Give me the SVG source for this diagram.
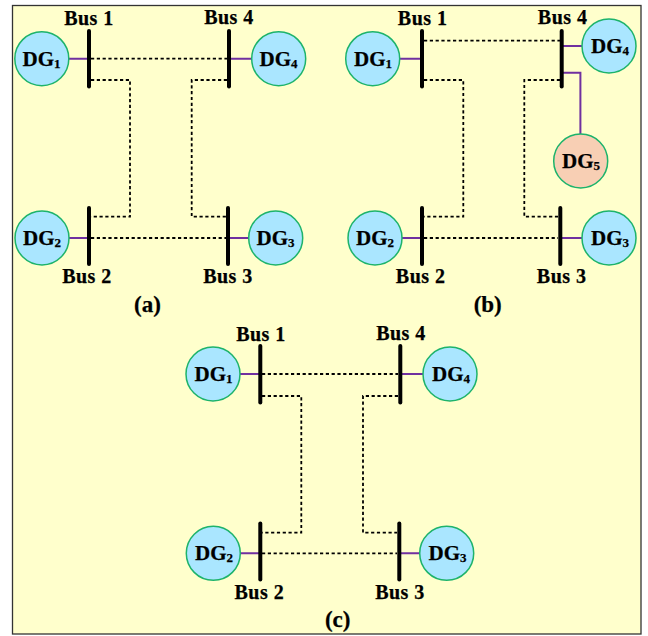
<svg xmlns="http://www.w3.org/2000/svg" width="648" height="636" viewBox="0 0 648 636">
<style>
text{font-family:"Liberation Serif","Times New Roman",serif;font-weight:bold;fill:#000;text-anchor:middle;stroke:#000;stroke-width:.25px}
.l{font-size:20px;letter-spacing:.5px}
.d{font-size:21px}
.s{font-size:13px}
.c{font-size:23px}
circle{stroke:#1db36b;stroke-width:1.5}
.dg{fill:#aae6ff}
.dg5{fill:#f8cfb4}
.bus{stroke:#000;stroke-width:4;stroke-linecap:round;fill:none}
.p{stroke:#7030a0;stroke-width:2;fill:none}
.da{stroke:#000;stroke-width:1.8;stroke-dasharray:3.2 2.6;fill:none}
</style>
<rect x="12.5" y="5.5" width="628.5" height="628.5" fill="#ffffcc" stroke="#333" stroke-width="1.3"/>
<g id="connectors">
<path class="p" d="M69 58.7H89M229 58.7H252M69 238H89M228 238H249"/>
<path class="da" d="M91 58.7H227M91 238H226M91 80H130V216.7H91M227 80H191.7V216.7H226"/>
<path class="p" d="M399 58.7H422M561.7 46H582M397 238H422M560.3 238H582M561.7 72.7H580.4V134"/>
<path class="da" d="M424 40.7H560M424 238H558M424 80H463.3V216.7H424M560 80H524.3V216.7H558"/>
<path class="p" d="M240 374H260.3M400.3 374H423M240 553.3H260.3M399.3 553.3H420"/>
<path class="da" d="M262 374H398M262 553.3H397M262 396H301.3V532.7H262M398 396H363V532.7H397"/>
</g>
<g id="bus1a"><path class="bus" d="M89 31V86.5"/><text class="l" x="89" y="24.7">Bus 1</text></g>
<g id="bus4a"><path class="bus" d="M229 31V86.5"/><text class="l" x="229" y="23.7">Bus 4</text></g>
<g id="bus2a"><path class="bus" d="M89 208V264"/><text class="l" x="87" y="282.7">Bus 2</text></g>
<g id="bus3a"><path class="bus" d="M228 208V264"/><text class="l" x="228" y="282.7">Bus 3</text></g>
<g id="dg1a"><circle class="dg" cx="41.8" cy="58.7" r="27"/><text class="d" x="41.5" y="65.5">DG<tspan class="s" dy="2">1</tspan></text></g>
<g id="dg4a"><circle class="dg" cx="278.7" cy="58.7" r="27"/><text class="d" x="278.5" y="65.5">DG<tspan class="s" dy="2">4</tspan></text></g>
<g id="dg2a"><circle class="dg" cx="42" cy="238" r="27"/><text class="d" x="42" y="245">DG<tspan class="s" dy="2">2</tspan></text></g>
<g id="dg3a"><circle class="dg" cx="275.7" cy="238" r="27"/><text class="d" x="275.5" y="245">DG<tspan class="s" dy="2">3</tspan></text></g>
<text id="cap-a" class="c" x="147.5" y="312">(a)</text>
<g id="bus1b"><path class="bus" d="M422 31V86.5"/><text class="l" x="422.7" y="24.7">Bus 1</text></g>
<g id="bus4b"><path class="bus" d="M561.7 31V86.5"/><text class="l" x="562.7" y="23.7">Bus 4</text></g>
<g id="bus2b"><path class="bus" d="M422 208V264"/><text class="l" x="420.7" y="282.7">Bus 2</text></g>
<g id="bus3b"><path class="bus" d="M560.3 208V264"/><text class="l" x="561.7" y="282.7">Bus 3</text></g>
<g id="dg1b"><circle class="dg" cx="372.7" cy="58.7" r="27"/><text class="d" x="373" y="65.5">DG<tspan class="s" dy="2">1</tspan></text></g>
<g id="dg4b"><circle class="dg" cx="609" cy="46" r="27"/><text class="d" x="610" y="53">DG<tspan class="s" dy="2">4</tspan></text></g>
<g id="dg5b"><circle class="dg5" cx="580.7" cy="161" r="27"/><text class="d" x="581" y="168">DG<tspan class="s" dy="2">5</tspan></text></g>
<g id="dg2b"><circle class="dg" cx="375" cy="238" r="27"/><text class="d" x="375" y="245">DG<tspan class="s" dy="2">2</tspan></text></g>
<g id="dg3b"><circle class="dg" cx="609" cy="238" r="27"/><text class="d" x="610" y="245">DG<tspan class="s" dy="2">3</tspan></text></g>
<text id="cap-b" class="c" x="487.7" y="312">(b)</text>
<g id="bus1c"><path class="bus" d="M260.3 346V402.5"/><text class="l" x="261" y="340.7">Bus 1</text></g>
<g id="bus4c"><path class="bus" d="M400.3 346V402.5"/><text class="l" x="401" y="339.7">Bus 4</text></g>
<g id="bus2c"><path class="bus" d="M260.3 523.5V579.5"/><text class="l" x="259.3" y="598.7">Bus 2</text></g>
<g id="bus3c"><path class="bus" d="M399.3 523.5V579.5"/><text class="l" x="400" y="598.7">Bus 3</text></g>
<g id="dg1c"><circle class="dg" cx="213" cy="374" r="27"/><text class="d" x="213.5" y="381">DG<tspan class="s" dy="2">1</tspan></text></g>
<g id="dg4c"><circle class="dg" cx="450" cy="374" r="27"/><text class="d" x="451" y="381">DG<tspan class="s" dy="2">4</tspan></text></g>
<g id="dg2c"><circle class="dg" cx="213.3" cy="553.3" r="27"/><text class="d" x="214" y="560">DG<tspan class="s" dy="2">2</tspan></text></g>
<g id="dg3c"><circle class="dg" cx="446.7" cy="553.3" r="27"/><text class="d" x="447.5" y="560">DG<tspan class="s" dy="2">3</tspan></text></g>
<text id="cap-c" class="c" x="337.7" y="627">(c)</text>
</svg>
